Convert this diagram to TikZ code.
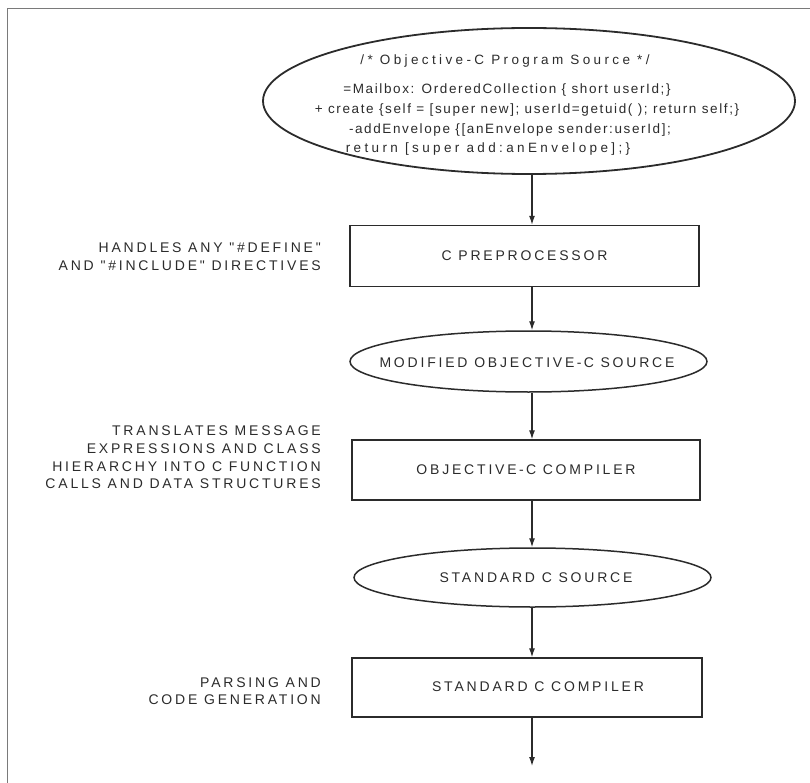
\documentclass[tikz,border=0pt]{standalone}
\usepackage{fontspec}
\usetikzlibrary{shapes.geometric,arrows.meta}
\newfontfamily\labfont[LetterSpace=20]{Liberation Sans}
\newfontfamily\codefont[LetterSpace=12]{Liberation Sans}
\newfontfamily\widecodefont[LetterSpace=25]{Liberation Sans}
\newcommand\labsize{\labfont\fontsize{14}{17.6}\selectfont}
\newcommand\codesize{\codefont\fontsize{13.5}{16}\selectfont}
\newcommand\widecodesize{\widecodefont\fontsize{13.5}{16}\selectfont}
\definecolor{ink}{HTML}{2B2B2B}
\definecolor{framegray}{HTML}{7A7A7A}
\begin{document}
\begin{tikzpicture}[x=1pt,y=-1pt,
  stage/.style={draw=ink, line width=1.4pt, rectangle, minimum width=349pt, minimum height=61pt, inner sep=0pt},
  oval/.style={draw=ink, line width=1.5pt, ellipse, inner sep=0pt},
  txt/.style={inner sep=0pt, font=\labsize, text=ink},
  note/.style={anchor=east, align=right, inner sep=0pt, font=\labsize, text=ink},
  code/.style={inner sep=0pt, font=\codesize, text=ink},
  widecode/.style={inner sep=0pt, font=\widecodesize, text=ink},
  arr/.style={draw=ink, line width=1.2pt, -{Latex[length=9pt,width=6pt]}}]
\useasboundingbox (0,0) rectangle (810,783);
\draw[framegray, line width=1pt] (7,783) -- (7,9) -- (810,9);

% source ellipse
\node[oval, line width=1.8pt, minimum width=532pt, minimum height=146pt] (src) at (529,101) {};
\node[widecode] (c1) at (505,61) {/* Objective-C Program Source */};
\node[code] (c2) at (507,90) {=Mailbox: OrderedCollection \{ short userId;\}};
\node[code] (c3) at (527,110) {+ create \{self = [super new]; userId=getuid( ); return self;\}};
\node[code] (c4) at (510,130) {-addEnvelope \{[anEnvelope sender:userId];};
\node[widecode] (c5) at (488,149) {return [super add:anEnvelope];\}};

% stages
\node[stage] (pre) at (524.5,256) {};
\node[txt] (pret) at (pre.center) {C PREPROCESSOR};
\node[oval, minimum width=357pt, minimum height=61pt] (mod) at (528.5,361.5) {};
\node[txt] (modt) at (527,363) {MODIFIED OBJECTIVE\,-\,C SOURCE};
\node[stage, minimum width=348pt, minimum height=60pt] (occ) at (526,470) {};
\node[txt] (occt) at (occ.center) {OBJECTIVE\,-\,C COMPILER};
\node[oval, minimum width=357pt, minimum height=59pt] (std) at (532.5,577.5) {};
\node[txt] (stdt) at (536,578) {STANDARD C SOURCE};
\node[stage, minimum width=350pt, minimum height=59pt] (scc) at (527,687.5) {};
\node[txt] (scct) at (538,687) {STANDARD C COMPILER};

% side notes
\node[note] (n1) at (321,256.5) {HANDLES ANY "\#DEFINE"\\AND "\#INCLUDE" DIRECTIVES};
\node[note] (n2) at (321,457.5) {TRANSLATES MESSAGE\\EXPRESSIONS AND CLASS\\HIERARCHY INTO C FUNCTION\\CALLS AND DATA STRUCTURES};
\node[note] (n3) at (321,691) {PARSING AND\\CODE GENERATION};

% connectors
\coordinate (ax) at (532,0);
\coordinate (out) at (532,766);
\draw[arr] (src.south -| ax) -- (pre.north -| ax);
\draw[arr] (pre.south -| ax) -- (mod.north -| ax);
\draw[arr] (mod.south -| ax) -- (occ.north -| ax);
\draw[arr] (occ.south -| ax) -- (std.north -| ax);
\draw[arr] (std.south -| ax) -- (scc.north -| ax);
\draw[arr] (scc.south -| ax) -- (out);
\end{tikzpicture}
\end{document}
